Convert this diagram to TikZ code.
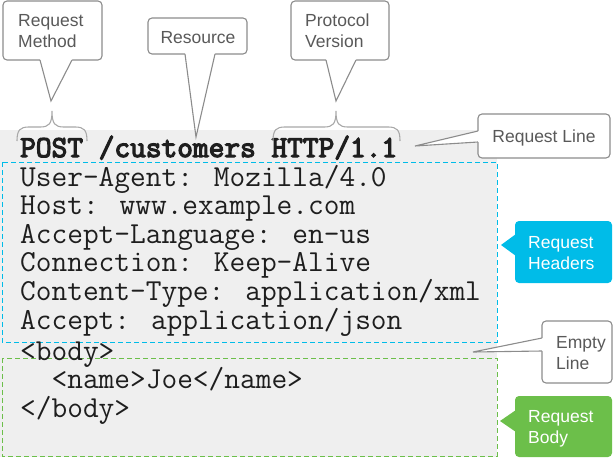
\documentclass[tikz,border=0pt]{standalone}
\usepackage{fontspec}
\setmainfont{Liberation Sans}
\newfontfamily\codebf{Latin Modern Mono}[FakeBold=4]
\definecolor{bggray}{HTML}{EFEFEF}
\definecolor{lblgray}{HTML}{595959}
\definecolor{brdgray}{HTML}{8C8C8C}
\definecolor{brcgray}{HTML}{A8A8A8}
\definecolor{cyanc}{HTML}{00BCE8}
\definecolor{greenc}{HTML}{6CBF4A}
\definecolor{codec}{HTML}{1E1E1E}
\begin{document}
\begin{tikzpicture}[x=1pt,y=-1pt,
  code/.style={font=\ttfamily\fontsize{30.5}{28.6}\selectfont, text=codec, anchor=base west, inner sep=0pt},
  lbl/.style={font=\fontsize{17.5}{21}\selectfont, text=lblgray, inner sep=0pt, align=left},
  wlbl/.style={font=\fontsize{17.5}{21}\selectfont, text=white, inner sep=0pt, align=left},
  cbox/.style={draw=brdgray, fill=white, line width=1.1pt, rounded corners=4pt},
  cline/.style={draw=brdgray, line width=1.1pt},
  brace/.style={draw=brcgray, line width=1.1pt},
  dashb/.style={draw=cyanc, line width=1pt, dash pattern=on 5pt off 3pt},
  dashg/.style={draw=greenc, line width=1pt, dash pattern=on 5pt off 3pt}]
\useasboundingbox (0,0) rectangle (613,463);
% background
\fill[bggray] (0,130) rectangle (497,457);
\draw[dashb] (2,162) rectangle (497,342);
\draw[dashg] (2,358) rectangle (497,456);
% code
\node[code, font=\codebf\fontsize{30.5}{28.6}\selectfont] (rl) at (20,157) {POST /customers HTTP/1.1};
\node[code] (h1) at (20,186) {User-Agent: Mozilla/4.0};
\node[code] (h2) at (20,214.6) {Host: www.example.com};
\node[code] (h3) at (20,243.2) {Accept-Language: en-us};
\node[code] (h4) at (20,271.8) {Connection: Keep-Alive};
\node[code] (h5) at (20,300.4) {Content-Type: application/xml};
\node[code] (h6) at (20,329) {Accept: application/json};
\node[code] (b1) at (20,360) {<body>};
\node[code] (b2) at (20,388.6) {\ \ <name>Joe</name>};
\node[code] (b3) at (20,417.2) {</body>};
% braces
\draw[brace] (17,141) .. controls (17,130) and (20,127) .. (29,127) -- (40,127) .. controls (49,127) and (52,124) .. (52,111) .. controls (52,124) and (55,127) .. (64,127) -- (75,127) .. controls (84,127) and (87,130) .. (87,141);
\draw[brace] (273,141) .. controls (273,130) and (276,127) .. (285,127) -- (324,127) .. controls (333,127) and (336,124) .. (336,111) .. controls (336,124) and (339,127) .. (348,127) -- (388,127) .. controls (397,127) and (400,130) .. (400,141);
% Request Method callout
\draw[cbox] (3,1) rectangle (102,60);
\fill[white] (40,60) -- (51,101) -- (72,60) -- (72,57) -- (40,57) -- cycle;
\draw[cline] (40,60) -- (51,101) -- (72,60);
\node[lbl, anchor=north west] (rm) at (18,14) {Request\\Method};
% Resource callout
\draw[cbox] (148,18) rectangle (247,54);
\fill[white] (185,54) -- (196,137) -- (215,54) -- (215,51) -- (185,51) -- cycle;
\draw[cline] (185,54) -- (196,137) -- (215,54);
\node[lbl] (res) at (198,38) {Resource};
% Protocol Version callout
\draw[cbox] (291,1) rectangle (389,60);
\fill[white] (326,60) -- (336,101) -- (356,60) -- (356,57) -- (326,57) -- cycle;
\draw[cline] (326,60) -- (336,101) -- (356,60);
\node[lbl, anchor=north west] (pv) at (305,14) {Protocol\\Version};
% Request Line callout
\draw[cbox] (478,114) rectangle (610,158);
\fill[white] (478,131) -- (415,146) -- (478,142) -- (481,142) -- (481,131) -- cycle;
\draw[cline] (478,131) -- (415,146) -- (478,142);
\node[lbl] (rlab) at (544,137.5) {Request Line};
% Empty Line callout
\draw[cbox] (542,321) rectangle (612,383);
\fill[white] (542,338) -- (473,352) -- (542,351) -- (545,351) -- (545,338) -- cycle;
\draw[cline] (542,338) -- (473,352) -- (542,351);
\node[lbl, anchor=north west] (el) at (556,336) {Empty\\Line};
% Request Headers callout
\fill[cyanc, rounded corners=4pt] (515,221) rectangle (612,283);
\fill[cyanc] (516,234) -- (501,245) -- (516,256) -- cycle;
\node[wlbl, anchor=north west] (rh) at (528,236) {Request\\Headers};
% Request Body callout
\fill[greenc, rounded corners=4pt] (515,396) rectangle (612,457);
\fill[greenc] (516,410) -- (500,421) -- (516,432) -- cycle;
\node[wlbl, anchor=north west] (rb) at (528,410) {Request\\Body};
\end{tikzpicture}
\end{document}
